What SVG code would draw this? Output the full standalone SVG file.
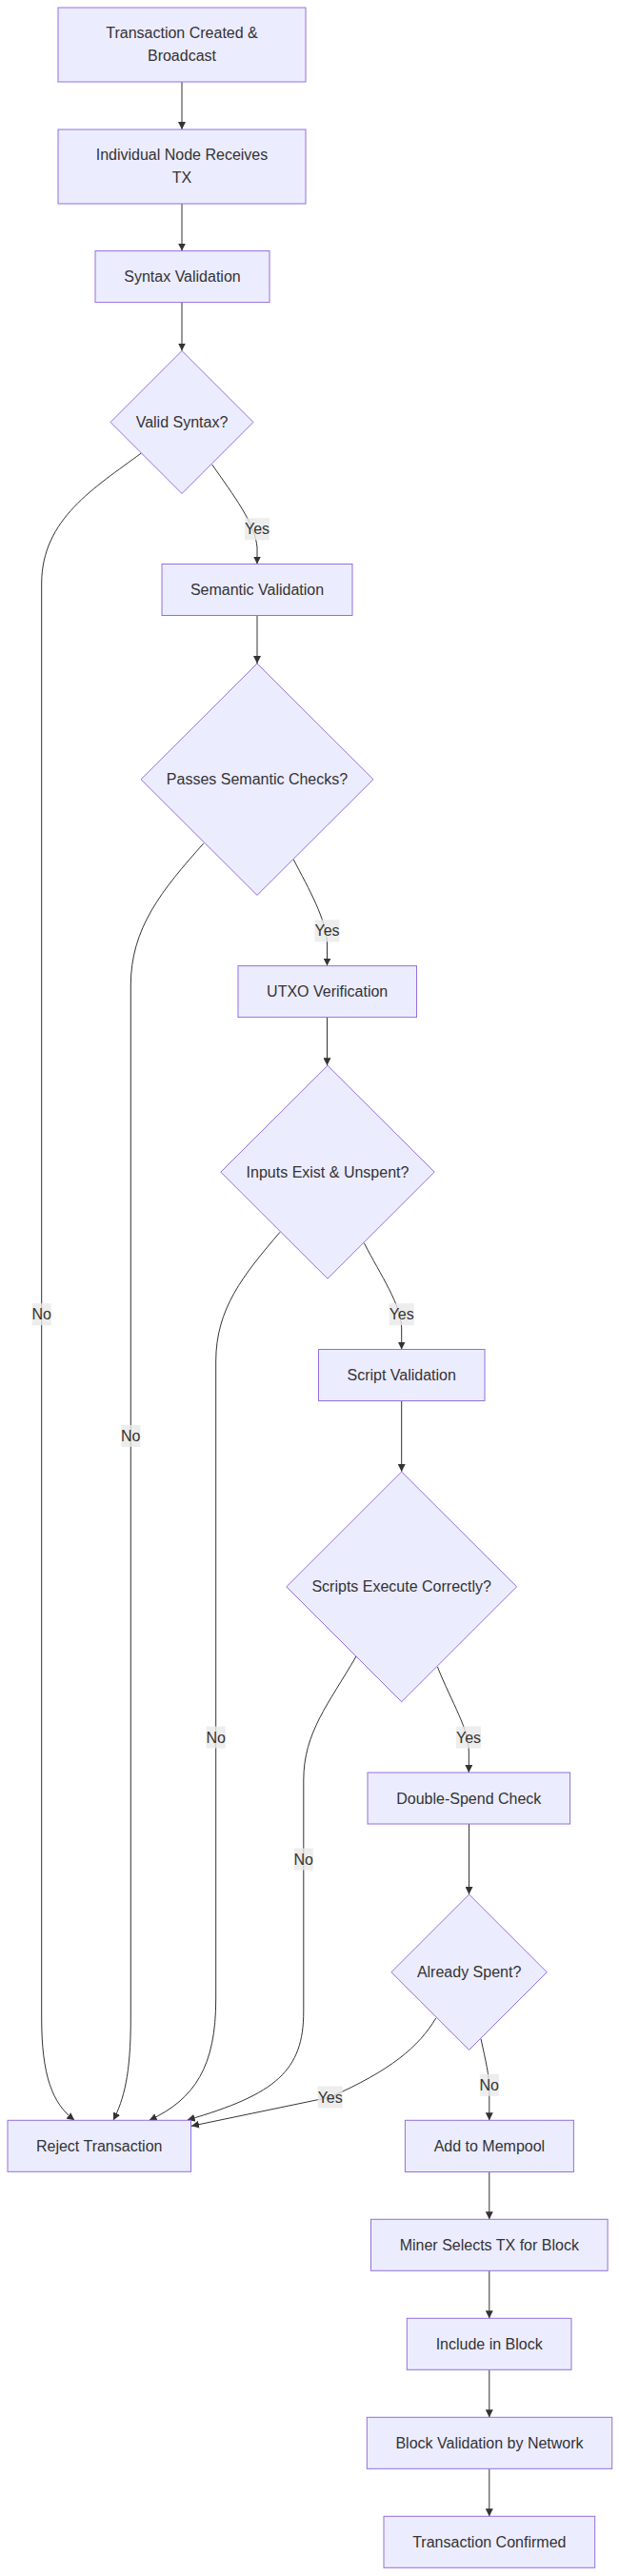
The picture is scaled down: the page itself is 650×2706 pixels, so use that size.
<svg xmlns="http://www.w3.org/2000/svg" width="650" height="2706" viewBox="0 0 650 2706">
<style>
.node rect, .node polygon { fill: #ECECFF; stroke: #9370DB; stroke-width: 1; }
.node text { font-family: "Liberation Sans", Arial, sans-serif; font-size: 16px; fill: #333333; text-anchor: middle; dominant-baseline: central; }
.edge { fill: none; stroke: #333333; stroke-width: 1; marker-end: url(#arrow); }
.lbl rect { fill: #e8e8e8; opacity: 0.8; }
.lbl text { font-family: "Liberation Sans", Arial, sans-serif; font-size: 16px; fill: #333333; text-anchor: middle; dominant-baseline: central; }
</style>
<defs>
<marker id="arrow" viewBox="0 0 10 10" refX="10" refY="5" markerWidth="8" markerHeight="8" markerUnits="userSpaceOnUse" orient="auto">
<path d="M0,0 L10,5 L0,10 z" fill="#333333"/>
</marker>
</defs>
<rect width="650" height="2706" fill="#ffffff"/>
<g id="connectors">
<path class="edge" d="M191,86 L191,136"/>
<path class="edge" d="M191,214 L191,263.6"/>
<path class="edge" d="M191,317.6 L191,368.5"/>
<path class="edge" d="M222.7,488 C245,520 268,550 270,575 L270,592.5"/>
<path class="edge" d="M148.3,476 C100,512 43.7,545 43.7,613 L43.7,2120 C43.7,2180 55,2210 78.3,2227.3"/>
<path class="edge" d="M270,646.5 L270,697"/>
<path class="edge" d="M308.3,903 C325,935 342,965 343.5,990 L343.5,1014.6"/>
<path class="edge" d="M214,885.7 C170,935 137.3,975 137.3,1035 L137.3,2120 C137.3,2180 130,2205 119,2227.3"/>
<path class="edge" d="M343.5,1068.6 L343.5,1119.3"/>
<path class="edge" d="M382.3,1305.7 C400,1340 421,1370 421.7,1395 L421.7,1417.5"/>
<path class="edge" d="M294,1294.3 C255,1340 226.7,1375 226.7,1430 L226.7,2100 C226.7,2170 205,2205 156.7,2227.3"/>
<path class="edge" d="M421.7,1471.5 L421.7,1546"/>
<path class="edge" d="M459.4,1751 C475,1790 492,1815 492.3,1840 L492.3,1862"/>
<path class="edge" d="M374,1740 C345,1790 318.8,1820 318.8,1870 L318.8,2113 C318.8,2175 290,2200 196.7,2227"/>
<path class="edge" d="M492.5,1916 L492.5,1990"/>
<path class="edge" d="M457.7,2120 C440,2150 410,2175 346.7,2203 L201,2233.3"/>
<path class="edge" d="M505,2141.7 C510,2165 513.8,2180 513.8,2195 L513.8,2227.3"/>
<path class="edge" d="M513.8,2281.5 L513.8,2331.3"/>
<path class="edge" d="M513.8,2385.3 L513.8,2435.3"/>
<path class="edge" d="M513.8,2489.3 L513.8,2539.3"/>
<path class="edge" d="M513.8,2593.3 L513.8,2643.3"/>
</g>
<g id="edge-labels">
<g class="lbl"><rect x="257" y="544.3" width="26" height="23"/><text x="270" y="555.8">Yes</text></g>
<g class="lbl"><rect x="330.5" y="966.3" width="26" height="23"/><text x="343.5" y="977.8">Yes</text></g>
<g class="lbl"><rect x="408.7" y="1369.2" width="26" height="23"/><text x="421.7" y="1380.7">Yes</text></g>
<g class="lbl"><rect x="479" y="1813.5" width="26" height="23"/><text x="492" y="1825">Yes</text></g>
<g class="lbl"><rect x="333.7" y="2191.5" width="26" height="23"/><text x="346.7" y="2203">Yes</text></g>
<g class="lbl"><rect x="33.7" y="1369.2" width="20" height="23"/><text x="43.7" y="1380.7">No</text></g>
<g class="lbl"><rect x="127.3" y="1497" width="20" height="23"/><text x="137.3" y="1508.5">No</text></g>
<g class="lbl"><rect x="216.7" y="1813.5" width="20" height="23"/><text x="226.7" y="1825">No</text></g>
<g class="lbl"><rect x="308.8" y="1941.5" width="20" height="23"/><text x="318.8" y="1953">No</text></g>
<g class="lbl"><rect x="503.8" y="2178.8" width="20" height="23"/><text x="513.8" y="2190.3">No</text></g>
</g>
<g id="A" class="node"><rect x="61" y="8" width="260" height="78"/><text x="191" y="34.3">Transaction Created &amp;</text><text x="191" y="58.3">Broadcast</text></g>
<g id="B" class="node"><rect x="61" y="136" width="260" height="78"/><text x="191" y="162.3">Individual Node Receives</text><text x="191" y="186.3">TX</text></g>
<g id="C" class="node"><rect x="100" y="263.6" width="183" height="54"/><text x="191.5" y="290.6">Syntax Validation</text></g>
<g id="D" class="node"><polygon points="191,368.5 266,443.5 191,518.5 116,443.5"/><text x="191" y="443.5">Valid Syntax?</text></g>
<g id="E" class="node"><rect x="170" y="592.5" width="200" height="54"/><text x="270" y="619.5">Semantic Validation</text></g>
<g id="F" class="node"><polygon points="270,697 392,818.7 270,940.4 148,818.7"/><text x="270" y="818.7">Passes Semantic Checks?</text></g>
<g id="G" class="node"><rect x="250" y="1014.6" width="187.5" height="54"/><text x="343.7" y="1041.6">UTXO Verification</text></g>
<g id="H" class="node"><polygon points="344,1119.3 456.2,1231.2 344,1343.2 231.8,1231.2"/><text x="344" y="1231.2">Inputs Exist &amp; Unspent?</text></g>
<g id="I" class="node"><rect x="334.5" y="1417.5" width="174.5" height="54"/><text x="421.7" y="1444.5">Script Validation</text></g>
<g id="J" class="node"><polygon points="421.7,1546 542.6,1666.8 421.7,1787.7 300.8,1666.8"/><text x="421.7" y="1666.8">Scripts Execute Correctly?</text></g>
<g id="K" class="node"><rect x="386" y="1862" width="212.6" height="54"/><text x="492.3" y="1889">Double-Spend Check</text></g>
<g id="L" class="node"><polygon points="492.6,1990 574.3,2071.7 492.6,2153.4 410.9,2071.7"/><text x="492.6" y="2071.7">Already Spent?</text></g>
<g id="R" class="node"><rect x="8" y="2227.3" width="192.5" height="54"/><text x="104.2" y="2254.3">Reject Transaction</text></g>
<g id="M" class="node"><rect x="425.4" y="2227.3" width="177" height="54.2"/><text x="513.9" y="2254.4">Add to Mempool</text></g>
<g id="N" class="node"><rect x="389.5" y="2331.3" width="248.6" height="54"/><text x="513.8" y="2358.3">Miner Selects TX for Block</text></g>
<g id="O" class="node"><rect x="427.3" y="2435.3" width="172.7" height="54"/><text x="513.7" y="2462.3">Include in Block</text></g>
<g id="P" class="node"><rect x="385.3" y="2539.3" width="257.4" height="54"/><text x="514" y="2566.3">Block Validation by Network</text></g>
<g id="Q" class="node"><rect x="403" y="2643.3" width="221.7" height="54"/><text x="513.8" y="2670.3">Transaction Confirmed</text></g>
</svg>
